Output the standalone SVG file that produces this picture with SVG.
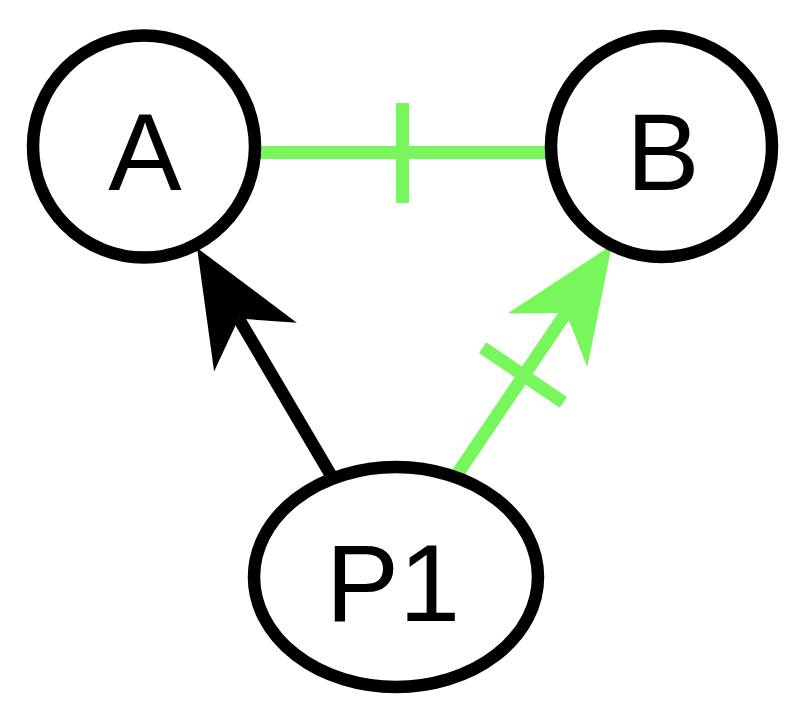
<svg xmlns="http://www.w3.org/2000/svg" width="806" height="721" viewBox="0 0 806 721">
<style>
.node{fill:#fff;stroke:#000;stroke-width:12.5}
.lbl{font-family:"Liberation Sans",Arial,sans-serif;font-size:110px;fill:#000;text-anchor:middle}
.blk{stroke:#000;stroke-width:12.5;fill:none}
.grn{stroke:#77F75B;stroke-width:13;fill:none}
</style>
<defs>
<marker id="ahB" markerUnits="userSpaceOnUse" orient="auto" refX="0" refY="0" markerWidth="1" markerHeight="1" overflow="visible">
<path d="M82,0 L-33,-48 L0,0 L-33,48 Z" fill="#000"/>
</marker>
<marker id="ahG" markerUnits="userSpaceOnUse" orient="auto" refX="0" refY="0" markerWidth="1" markerHeight="1" overflow="visible">
<path d="M82,0 L-33,-48 L0,0 L-33,48 Z" fill="#77F75B"/>
</marker>
</defs>
<rect width="806" height="721" fill="#fff"/>
<g id="connectors">
<line class="grn" x1="257" y1="152.5" x2="549" y2="152.5"/>
<line class="grn" x1="402.5" y1="103" x2="402.5" y2="203"/>
<line class="blk" x1="332" y1="477" x2="238.7" y2="318.6" marker-end="url(#ahB)"/>
<line class="grn" x1="458" y1="473" x2="566" y2="313" marker-end="url(#ahG)"/>
<line class="grn" x1="482.6" y1="347.7" x2="563.4" y2="402.3"/>
</g>
<g id="A">
<circle class="node" cx="144" cy="146.5" r="111"/>
<text class="lbl" x="145" y="190">A</text>
</g>
<g id="B">
<circle class="node" cx="661.5" cy="146.5" r="110.5"/>
<text class="lbl" x="663" y="190">B</text>
</g>
<g id="P1">
<ellipse class="node" cx="396" cy="577" rx="142" ry="110"/>
<text class="lbl" x="393" y="621">P1</text>
</g>
</svg>
